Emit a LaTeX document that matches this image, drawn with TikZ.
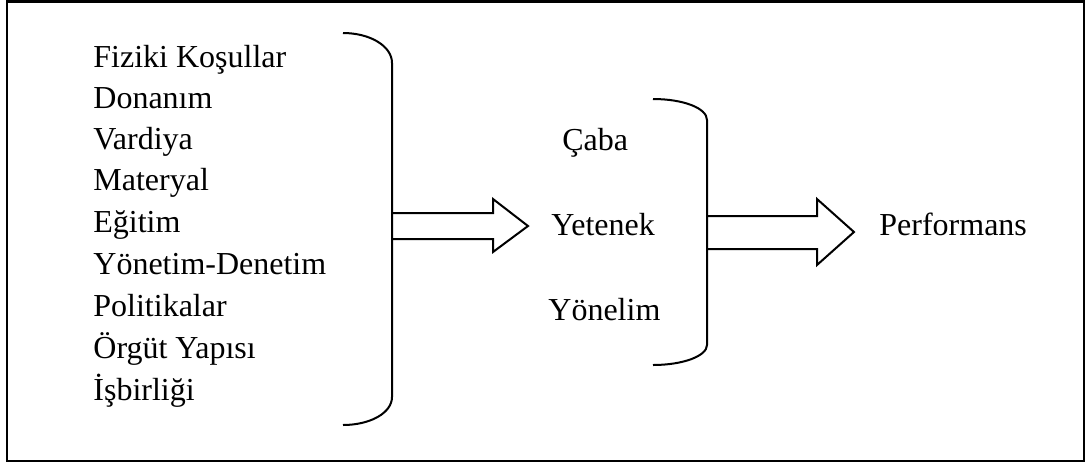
\documentclass[tikz,border=0pt]{standalone}
\usepackage{fontspec}
\setmainfont{Liberation Serif}
\begin{document}
\begin{tikzpicture}[x=0.5pt,y=-0.5pt,
  lbl/.style={anchor=base west,inner sep=0pt,font=\fontsize{16pt}{19pt}\selectfont},
  ln/.style={line width=1pt,black}]
\useasboundingbox (0,0) rectangle (1089,463);
\draw[line width=1.2pt] (7,1.5) rectangle (1084,461);
% left list
\node[lbl] (t1) at (93,67) {Fiziki Koşullar};
\node[lbl] (t2) at (93,108) {Donanım};
\node[lbl] (t3) at (93,149) {Vardiya};
\node[lbl] (t4) at (93,190) {Materyal};
\node[lbl] (t5) at (93,232) {Eğitim};
\node[lbl] (t6) at (93,274) {Yönetim-Denetim};
\node[lbl] (t7) at (93,316) {Politikalar};
\node[lbl] (t8) at (93,358) {Örgüt Yapısı};
\node[lbl] (t9) at (93,400) {İşbirliği};
% arrow 1
\draw[ln,fill=white] (392,213) -- (493,213) -- (493,199) -- (528,226) -- (493,252) -- (493,239) -- (392,239);
% brace 1
\draw[ln] (343,33) .. controls (370,33) and (392,46) .. (392,63)
  -- (392,397) .. controls (392,413) and (370,425) .. (343,425);
% middle list
\node[lbl] (m1) at (562,150) {Çaba};
\node[lbl] (m2) at (551,235) {Yetenek};
\node[lbl] (m3) at (548,320) {Yönelim};
% arrow 2
\draw[ln,fill=white] (707,216) -- (817,216) -- (817,199) -- (854,232) -- (817,265) -- (817,249) -- (707,249);
% brace 2
\draw[ln] (653,99) .. controls (683,99) and (707,108) .. (707,120)
  -- (707,345) .. controls (707,356) and (683,365) .. (653,365);
\node[lbl] (p) at (879,235) {Performans};
\end{tikzpicture}
\end{document}
